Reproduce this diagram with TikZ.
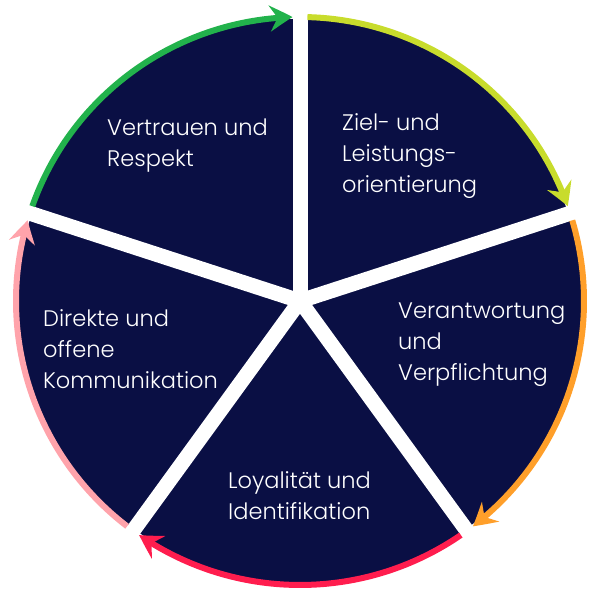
\documentclass[tikz,border=0pt]{standalone}
\usepackage{fontspec}
\setmainfont{Poppins}[UprightFont=* Light]
\usetikzlibrary{arrows.meta,bending}
\definecolor{navy}{HTML}{0A0F44}
\definecolor{ringgreen}{HTML}{22B24C}
\definecolor{ringlime}{HTML}{C8DC2C}
\definecolor{ringorange}{HTML}{FF9F2A}
\definecolor{ringred}{HTML}{FF1D4E}
\definecolor{ringpink}{HTML}{FFA3AB}
\tikzset{
  spoke/.style={white, line width=15pt},
  ring/.style={line width=6pt, -{Stealth[length=23pt,width=26pt,inset=8pt,bend]}},
  lbl/.style={text=white, anchor=north west, align=left, inner sep=0pt,
    font=\fontsize{22.5}{31}\selectfont}
}
\begin{document}
\begin{tikzpicture}[x=1pt,y=1pt]
\useasboundingbox (0,0) rectangle (600,600);
\coordinate (c) at (300,299);
\fill[navy] (c) circle[radius=282];
% white gaps between the five parts
\coordinate (s1) at ([shift={(c)}]90:300);
\coordinate (s2) at ([shift={(c)}]18:300);
\coordinate (s3) at ([shift={(c)}]-54:300);
\coordinate (s4) at ([shift={(c)}]-126:300);
\coordinate (s5) at ([shift={(c)}]162:300);
\draw[spoke] (c)--(s1);
\draw[spoke] (c)--(s2);
\draw[spoke] (c)--(s3);
\draw[spoke] (c)--(s4);
\draw[spoke] (c)--(s5);
% coloured arrows round the edge
\draw[ring, ringgreen] ([shift={(c)}]160.5:284) arc[start angle=160.5, end angle=91.5, radius=284];
\draw[ring, ringlime] ([shift={(c)}]88.5:284) arc[start angle=88.5, end angle=19.5, radius=284];
\draw[ring, ringorange] ([shift={(c)}]16.5:284) arc[start angle=16.5, end angle=-52.5, radius=284];
\draw[ring, ringred] ([shift={(c)}]-55.5:284) arc[start angle=-55.5, end angle=-124.5, radius=284];
\draw[ring, ringpink] ([shift={(c)}]-127.5:284) arc[start angle=-127.5, end angle=-196.5, radius=284];
% labels
\node[lbl] (trust) at (107,481) {Vertrauen und\\Respekt};
\node[lbl] (goal) at (342,487) {Ziel- und\\Leistungs-\\orientierung};
\node[lbl] (resp) at (398,297) {Verantwortung\\und\\Verpflichtung};
\node[lbl] (talk) at (43,291) {Direkte und\\offene\\Kommunikation};
\node[lbl] (loyal) at (228,129) {Loyalität und\\Identifikation};
\end{tikzpicture}
\end{document}
